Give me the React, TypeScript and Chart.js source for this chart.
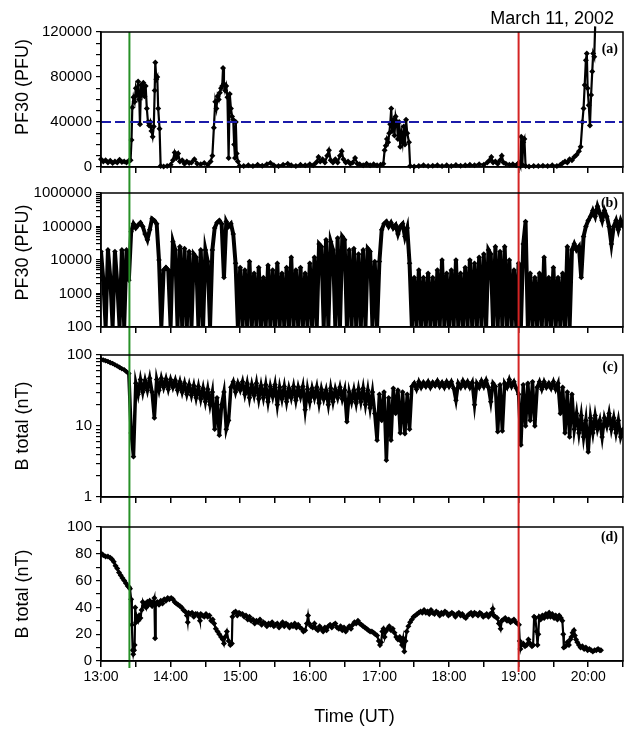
import React, { useEffect, useRef } from "react";
import { Chart, registerables } from "chart.js";
Chart.register(...registerables);

const SANS = "'Liberation Sans', Arial, Helvetica, sans-serif";
const SERIF = "'Liberation Serif', 'Times New Roman', serif";
Chart.defaults.font.family = SANS;

// ---------- axes / categories ----------
const START_HOUR = 13; // x values are minutes after 13:00 UT
const X_MIN = 0;
const X_MAX = 450; // 20:30
const X_TICK_MINUTES = [0, 30, 60, 90, 120, 150, 180, 210, 240, 270, 300, 330, 360, 390, 420, 450];
const GREEN_MARK_MIN = 24.5; // 13:24.5
const RED_MARK_MIN = 360; // 19:00
const DATE_TEXT = "March 11, 2002";
const TITLE_PF30_A = "     PF30 (PFU)";
const TITLE_PF30_B = "   PF30 (PFU)";
const TITLE_BTOTAL = "B total (nT)";
const TITLE_TIME = "Time (UT)   ";

const A_TICKS = [0, 10000, 20000, 30000, 40000, 50000, 60000, 70000, 80000, 90000, 100000, 110000, 120000];
const A_LABEL_STEP = 40000;
const THRESHOLD_A = 40000;
const B_DECADES = [100, 1000, 10000, 100000];
const C_DECADES = [1, 10];
const LOG_MULTIPLIERS = [1, 2, 3, 4, 5, 6, 7, 8, 9];
const D_TICKS = [0, 10, 20, 30, 40, 50, 60, 70, 80, 90, 100];
const D_LABEL_STEP = 20;

// ---------- panel (a): PF30 linear ----------
const minutesA = [
  0, 2, 4, 6, 8, 10, 12, 14, 16, 18,
  20, 22, 24, 25.5, 26.3, 27, 28, 29, 30, 31,
  32, 33, 33.6, 34.5, 35.5, 36.5, 37.5, 38.5, 39.5, 40.5,
  41.5, 42.5, 43.5, 44.5, 45.5, 46.3, 46.8, 47.7, 48.5, 49.3,
  50.5, 51.4, 54, 57, 60, 62, 63.5, 65, 66.5, 68,
  70, 72, 74, 76, 78, 80.5, 83, 86, 89, 92,
  94.5, 96, 97.3, 98.5, 99.5, 100.5, 101.5, 102.5, 103.5, 104.5,
  105.2, 106, 107, 108, 109, 110, 111, 112, 113, 114,
  114.8, 115.5, 116.2, 117, 118, 119.5, 123, 127, 131, 135,
  139, 143, 146, 149, 153, 157, 161, 164, 168, 172,
  176, 180, 183, 185.5, 187.5, 189, 191, 193, 195, 196.5,
  198, 200, 202, 204, 206, 207.5, 209, 211, 213, 215,
  217, 219, 221, 223, 226, 229, 232, 235, 238, 241,
  243.4, 244.5, 245.5, 246.5, 247.5, 248.5, 249.3, 250.2, 251, 252,
  253, 254, 255, 256, 257, 258, 259, 260, 261, 262,
  263, 264, 265.5, 266.5, 270, 274, 278, 282, 286, 290,
  294, 298, 302, 306, 310, 314, 318, 322, 326, 330,
  333, 335, 336.5, 338, 340, 342, 344, 345.5, 347, 349,
  352, 355, 358, 359.5, 360.5, 361.5, 362.3, 363.2, 364, 365,
  366, 369, 373, 377, 381, 385, 389, 393, 396, 398,
  400, 402, 404, 406, 408, 410, 412, 413.5, 415, 416,
  417, 418, 418.8, 419.5, 420.5, 421.5, 422.5, 423.5, 424.3, 425.2,
  426,
];
const pf30A = [
  7000, 5000, 6000, 4000, 5500, 3500, 5000, 4000, 6500, 4500,
  5000, 4000, 5500, 6000, 24000, 53000, 62000, 58000, 70000, 64000,
  76000, 60000, 38000, 73000, 66000, 75000, 63000, 72000, 52000, 40000,
  37000, 40000, 32000, 27000, 36000, 68000, 93000, 78000, 80000, 52000,
  34000, 1000, 500, 1000, 2000, 6000, 13000, 8000, 12000, 5000,
  6000, 3000, 5000, 3500, 4000, 7000, 3000, 2500, 3500, 2000,
  5000, 10000, 35000, 58000, 52000, 63000, 60000, 66000, 70000, 72000,
  88000, 74000, 68000, 72000, 62000, 8000, 65000, 52000, 45000, 42000,
  20000, 8000, 40000, 12000, 5000, 1000, 800, 1500, 1000, 2000,
  1200, 2500, 3500, 1500, 1000, 2000, 3000, 1500, 1000, 2000,
  1500, 2500, 1500, 4000, 9000, 5000, 7000, 4000, 10000, 15000,
  6000, 4000, 7000, 4000, 10000, 14000, 7000, 4000, 5000, 3000,
  4000, 8000, 3000, 2500, 1500, 3000, 1500, 2500, 1500, 2000,
  3000, 15000, 19000, 25000, 22000, 30000, 38000, 52000, 32000, 42000,
  28000, 45000, 40000, 25000, 40000, 18000, 30000, 22000, 36000, 20000,
  42000, 30000, 22000, 1000, 500, 1000, 1500, 800, 1200, 1500,
  800, 1500, 1000, 1800, 1200, 1500, 2000, 1500, 2500, 2000,
  4000, 6000, 9000, 4000, 5000, 3000, 6000, 10000, 4000, 3000,
  2000, 2500, 1500, 3000, 4000, 1000, 27000, 2000, 22000, 25000,
  1000, 500, 1000, 800, 1200, 1000, 1500, 1000, 2000, 3500,
  5000, 4000, 7000, 6000, 9000, 11000, 14000, 18000, 40000, 52000,
  73000, 95000, 101000, 70000, 55000, 37000, 64000, 85000, 101000, 98000,
  125000,
];

// ---------- panels (b) and (c): sampled every 2 minutes from 13:00 ----------
const SAMPLE_START_MIN = 0;
const SAMPLE_STEP_MIN = 2;
const pf30B = [
  18000, 2500, 100, 20000, 3000, 100, 18000, 2000, 100, 20000,
  100, 20000, 2500, 70000, 120000, 90000, 110000, 130000, 100000, 60000,
  40000, 80000, 170000, 150000, 120000, 10000, 100, 5000, 6000, 5000,
  100, 35000, 20000, 100, 25000, 100, 22000, 100, 18000, 100,
  15000, 12000, 100, 20000, 100, 20000, 9000, 100, 20000, 90000,
  130000, 150000, 120000, 3000, 140000, 100000, 120000, 60000, 8000, 100,
  6000, 100, 5000, 100, 9000, 100, 4000, 100, 6000, 100,
  3000, 100, 7000, 100, 5000, 100, 8000, 100, 4000, 100,
  6000, 100, 12000, 100, 5000, 100, 6000, 100, 4000, 100,
  8000, 100, 12000, 100, 30000, 25000, 100, 40000, 100, 35000,
  20000, 100, 45000, 100, 50000, 40000, 100, 20000, 100, 22000,
  100, 15000, 100, 20000, 100, 22000, 18000, 100, 9000, 100,
  9000, 80000, 120000, 140000, 100000, 130000, 90000, 110000, 60000, 100000,
  120000, 50000, 90000, 8000, 100, 3000, 100, 5000, 100, 3000,
  100, 4000, 100, 3000, 100, 5000, 100, 10000, 100, 4000,
  100, 5000, 100, 10000, 100, 4000, 100, 6000, 100, 10000,
  100, 8000, 100, 12000, 100, 15000, 100, 20000, 15000, 100,
  25000, 100, 18000, 100, 25000, 100, 10000, 100, 5000, 100,
  8000, 100, 30000, 140000, 100, 4000, 100, 3000, 100, 4000,
  100, 12000, 100, 3000, 100, 6000, 100, 3000, 100, 4000,
  100, 25000, 100, 20000, 30000, 20000, 25000, 3000, 50000, 100000,
  150000, 200000, 300000, 200000, 400000, 250000, 150000, 300000, 200000, 100000,
  30000, 100000, 150000, 80000, 150000, 100000,
];
const btotalC = [
  87, 85, 83, 81, 78, 76, 73, 70, 67, 64,
  62, 58, 55, 8, 3.7, 40, 28, 45, 30, 44,
  32, 47, 30, 13, 45, 32, 47, 35, 46, 33,
  45, 35, 44, 32, 42, 30, 40, 28, 38, 27,
  37, 25, 36, 24, 34, 22, 33, 20, 30, 9,
  25, 7.4, 20, 30, 9, 12, 35, 42, 30, 40,
  32, 42, 28, 40, 25, 38, 27, 40, 24, 37,
  25, 38, 22, 36, 26, 38, 20, 35, 24, 36,
  22, 34, 25, 36, 23, 35, 26, 36, 17, 33,
  22, 34, 25, 35, 21, 33, 24, 32, 20, 34,
  22, 33, 25, 35, 24, 32, 11.5, 30, 22, 32,
  21, 33, 22, 34, 20, 32, 18, 30, 15, 6.3,
  28, 12, 30, 3.3, 25, 6.3, 34, 15, 32, 8,
  30, 7.8, 28, 9, 36, 40, 33, 42, 35, 41,
  36, 42, 35, 41, 37, 43, 36, 41, 35, 42,
  36, 42, 34, 23, 40, 35, 43, 36, 42, 35,
  41, 20, 40, 35, 43, 36, 44, 35, 22, 40,
  36, 8.3, 38, 8.5, 40, 35, 45, 36, 42, 34,
  28, 5.4, 38, 10, 40, 12, 42, 10, 35, 42,
  33, 42, 35, 40, 34, 42, 33, 40, 15, 35,
  8, 30, 7, 28, 9, 15, 8, 14, 7, 12,
  4.3, 13, 8, 14, 9, 12, 7, 13, 10, 15,
  9, 13, 8, 12, 7, 9,
];

// ---------- panel (d): B total linear ----------
const minutesD = [
  0.5, 2, 4, 6, 8, 9.5, 11, 12.5, 14, 15.5,
  17, 18.5, 20, 21.5, 23, 24.3, 25, 26, 26.6, 27.3,
  27.8, 28.5, 29, 29.5, 30.2, 31, 32, 33, 34, 35,
  36, 37, 38, 39, 40, 41, 42, 43, 44, 45,
  46, 46.6, 47.2, 48.5, 50, 51.5, 53, 54.5, 56, 57.5,
  59, 60.5, 62, 63.5, 65, 66.5, 68, 69.5, 71, 72.5,
  74, 74.8, 75.5, 77, 78.5, 80, 81.5, 83, 84.5, 85.3,
  86, 87.5, 89, 90.5, 92, 93.5, 95, 96.3, 97.5, 99,
  100.5, 102, 103.5, 105, 106, 107, 108.5, 110, 111.5, 112.8,
  113.3, 114.5, 116, 117.5, 119, 120.5, 122, 123.5, 125, 126.5,
  128, 129.5, 131, 132.5, 134, 135.5, 137, 138.5, 140, 141.5,
  143, 144.5, 146, 147.5, 149, 150.5, 152, 153.5, 155, 156.5,
  158, 159.5, 161, 162.5, 164, 165.5, 167, 168.5, 170, 171.5,
  173, 174.5, 176, 177.5, 178.5, 179.5, 181, 182.5, 184, 185.5,
  187, 188.5, 190, 191.5, 193, 194.5, 196, 197.5, 199, 200.5,
  202, 203.5, 205, 206.5, 208, 209.5, 211, 212.5, 214, 215.5,
  217, 218.5, 220, 221.5, 223, 224.5, 226, 227.5, 229, 230.5,
  232, 233.5, 235, 236.5, 238, 239.5, 240.5, 241.5, 242.5, 243.5,
  244.5, 245.5, 247, 248.5, 250, 251.5, 253, 254.5, 256, 257.5,
  258.5, 259.5, 260.5, 261.5, 262.5, 263.5, 265, 266.5, 268, 269.5,
  271, 272.5, 274, 275.5, 277, 278.5, 280, 281.5, 283, 284.5,
  286, 287.5, 289, 290.5, 292, 293.5, 295, 296.5, 298, 299.5,
  301, 302.5, 304, 305.5, 307, 308.5, 310, 311.5, 313, 314.5,
  316, 317.5, 319, 320.5, 322, 323.5, 325, 326.5, 328, 329.5,
  331, 332.5, 334, 335.5, 337, 337.7, 338.5, 340, 341.5, 343,
  344.5, 345.5, 347, 348.5, 350, 351.5, 353, 354.5, 356, 357.5,
  359, 360.3, 361, 361.6, 362.5, 364, 365.5, 367, 368.5, 370,
  371.5, 372.5, 373.4, 374.5, 375.5, 376.3, 377, 377.7, 379, 380.5,
  382, 383.5, 385, 386.3, 387.5, 389, 390.6, 392, 393.5, 395,
  396.5, 397.7, 398.5, 399, 400.5, 402, 403.4, 404.5, 405.5, 406.5,
  407.7, 408.5, 409.5, 410.6, 412, 413.4, 415, 416.5, 418, 419.5,
  421, 422.5, 424, 425.5, 427, 428.5, 430, 431,
];
const btotalD = [
  80, 79, 78, 78, 77, 76, 74, 71, 69, 66,
  64, 62, 60, 58, 56, 55, 54, 46, 27, 8,
  5, 8, 12, 40, 29, 33, 30, 34, 32, 38,
  44, 41, 43, 40, 44, 42, 45, 43, 41, 44,
  47, 17, 42, 44, 42, 45, 43, 46, 45, 47,
  46, 47, 46, 44, 43, 42, 41, 40, 38, 37,
  34, 29, 36, 35, 36, 33, 35, 35, 33, 30,
  35, 34, 33, 35, 33, 34, 30, 31, 28, 24,
  22, 20, 18, 16, 13, 18, 22, 15, 12, 13,
  33, 36, 37, 34, 36, 35, 35, 33, 34, 31,
  33, 30, 31, 28, 30, 29, 31, 27, 29, 28,
  26, 28, 27, 29, 26, 27, 28, 25, 27, 29,
  26, 28, 27, 25, 27, 26, 28, 25, 27, 25,
  24, 22, 23, 28, 34, 28, 26, 25, 28, 24,
  23, 26, 24, 22, 25, 23, 26, 27, 25, 27,
  28, 25, 24, 26, 23, 25, 22, 24, 26, 24,
  27, 29, 28, 30, 28, 27, 26, 25, 24, 23,
  22, 22, 21, 20, 19, 15, 12, 14, 22, 24,
  18, 22, 24, 26, 23, 24, 21, 18, 16, 18,
  15, 12, 17, 7, 15, 22, 26, 29, 31, 33,
  34, 35, 36, 37, 36, 38, 36, 37, 35, 38,
  36, 35, 37, 36, 34, 36, 35, 37, 36, 34,
  35, 36, 35, 33, 35, 36, 34, 35, 33, 32,
  34, 35, 36, 34, 36, 35, 34, 36, 35, 33,
  34, 35, 33, 35, 36, 39, 34, 33, 32, 28,
  24, 30, 31, 32, 30, 31, 29, 30, 31, 29,
  28, 27, 15, 9, 12, 13, 11, 12, 16, 13,
  11, 12, 33, 32, 22, 12, 20, 33, 31, 34,
  32, 35, 33, 36, 33, 35, 32, 34, 31, 34,
  32, 30, 20, 10, 11, 14, 12, 16, 18, 21,
  23, 19, 16, 14, 12, 10, 11, 9, 10, 8,
  9, 8, 7, 8, 8, 9, 8, 8,
];

// ---------- helpers ----------
const pairs = (xs: number[], ys: number[]) => ys.map((y, i) => ({ x: xs[i], y }));
const sampled = (ys: number[]) => ys.map((y, i) => ({ x: SAMPLE_START_MIN + i * SAMPLE_STEP_MIN, y }));
const logTicks = (decades: number[], top: number) => {
  const out: number[] = [];
  decades.forEach((d) => LOG_MULTIPLIERS.forEach((m) => out.push(d * m)));
  out.push(top);
  return out;
};
const isPow10 = (v: number) => Math.abs(Math.log10(v) - Math.round(Math.log10(v))) < 1e-9;
const timeLabel = (v: number) => (v % 60 === 0 ? `${START_HOUR + v / 60}:00` : "");

const overlayPlugin = {
  id: "overlay",
  afterDatasetsDraw(chart: any, _args: any, opts: any) {
    const { ctx, chartArea: ca, scales } = chart;
    const x = scales.x;
    ctx.save();
    const marks = [
      { at: GREEN_MARK_MIN, color: "#279127" },
      { at: RED_MARK_MIN, color: "#d42424" },
    ];
    marks.forEach((m, i) => {
      const px = x.getPixelForValue(m.at);
      const y0 = opts.fromArea ? ca.top : 0;
      const y1 = opts.toArea ? ca.bottom + (i === 0 ? 7 : 11) : chart.height;
      ctx.strokeStyle = m.color;
      ctx.lineWidth = 2;
      ctx.beginPath();
      ctx.moveTo(px, y0);
      ctx.lineTo(px, y1);
      ctx.stroke();
    });
    ctx.restore();
  },
  afterDraw(chart: any, _args: any, opts: any) {
    const { ctx, chartArea: ca } = chart;
    ctx.save();
    ctx.strokeStyle = "#000";
    ctx.lineWidth = 1.5;
    ctx.strokeRect(ca.left, ca.top, ca.right - ca.left, ca.bottom - ca.top);
    ctx.fillStyle = "#000";
    ctx.textAlign = "right";
    ctx.textBaseline = "middle";
    ctx.font = `bold 14px ${SERIF}`;
    ctx.fillText(opts.letter, ca.right - 5, ca.top + opts.letterDy);
    if (opts.dateText) {
      ctx.font = `18px ${SANS}`;
      ctx.fillText(opts.dateText, ca.right - 9, 19);
    }
    ctx.restore();
  },
};

const lineStyle = (lw: number, pr: number) => ({
  borderColor: "#000",
  borderWidth: lw,
  pointStyle: "rectRot",
  pointRadius: pr,
  pointBackgroundColor: "#000",
  pointBorderColor: "#000",
  pointBorderWidth: 0,
  fill: false,
  tension: 0,
});

function xScale(showLabels: boolean, height: number) {
  return {
    type: "linear",
    min: X_MIN,
    max: X_MAX,
    afterBuildTicks: (s: any) => {
      s.ticks = X_TICK_MINUTES.map((v) => ({ value: v }));
    },
    afterFit: (s: any) => {
      s.height = height;
    },
    ticks: {
      display: showLabels,
      autoSkip: false,
      maxRotation: 0,
      padding: 2,
      color: "#000",
      font: { size: 14 },
      callback: (v: any) => timeLabel(Number(v)),
    },
    grid: { drawOnChartArea: false, drawTicks: true, tickLength: 6, color: "#000", lineWidth: 1.5 },
    border: { display: true, color: "#000", width: 1.5 },
    title: showLabels
      ? { display: true, text: TITLE_TIME, color: "#000", font: { size: 18 }, padding: { top: 4, bottom: 4 } }
      : { display: false },
  };
}

function yScale(kind: string, min: number, max: number, ticks: number[], label: (v: number) => string, title: string) {
  return {
    type: kind,
    min,
    max,
    afterBuildTicks: (s: any) => {
      s.ticks = ticks.map((v) => ({ value: v }));
    },
    afterFit: (s: any) => {
      s.width = 93;
    },
    ticks: {
      autoSkip: false,
      padding: 4,
      color: "#000",
      font: { size: 15 },
      callback: (v: any) => label(Number(v)),
    },
    grid: { drawOnChartArea: false, drawTicks: true, tickLength: 5, color: "#000", lineWidth: 1.2 },
    border: { display: true, color: "#000", width: 1.5 },
    title: { display: true, text: title, color: "#000", font: { size: 18 }, padding: { top: 4, bottom: 4 } },
  };
}

function baseOptions(padTop: number, x: any, y: any, overlay: any) {
  return {
    responsive: false,
    animation: false,
    events: [],
    layout: { padding: { top: padTop, left: 8, right: 2, bottom: 0 } },
    scales: { x, y },
    plugins: { legend: { display: false }, tooltip: { enabled: false }, overlay },
  };
}

const buildA = () => ({
  type: "line",
  data: {
    datasets: [
      {
        data: [
          { x: X_MIN, y: THRESHOLD_A },
          { x: X_MAX, y: THRESHOLD_A },
        ],
        borderColor: "#1b1baa",
        borderWidth: 2,
        borderDash: [10, 4],
        pointRadius: 0,
        fill: false,
      },
      {
        data: pairs(minutesA, pf30A),
        ...lineStyle(2.2, 3),
        pointRadius: (c: any) => (c.raw && c.raw.y > 120000 ? 0 : 3),
        clip: false,
      },
    ],
  },
  options: baseOptions(
    32,
    xScale(false, 12),
    yScale("linear", 0, 120000, A_TICKS, (v) => (v % A_LABEL_STEP === 0 ? String(v) : ""), TITLE_PF30_A),
    { letter: "(a)", letterDy: 17, fromArea: true, toArea: false, dateText: DATE_TEXT }
  ),
  plugins: [overlayPlugin],
});

const buildB = () => ({
  type: "line",
  data: { datasets: [{ data: sampled(pf30B), ...lineStyle(4, 2.8) }] },
  options: baseOptions(
    13,
    xScale(false, 10),
    yScale("logarithmic", 100, 1000000, logTicks(B_DECADES, 1000000), (v) => (isPow10(v) ? String(v) : ""), TITLE_PF30_B),
    { letter: "(b)", letterDy: 10, fromArea: false, toArea: false }
  ),
  plugins: [overlayPlugin],
});

const buildC = () => ({
  type: "line",
  data: { datasets: [{ data: sampled(btotalC), ...lineStyle(3.5, 2.8) }] },
  options: baseOptions(
    15,
    xScale(false, 13),
    yScale("logarithmic", 1, 100, logTicks(C_DECADES, 100), (v) => (isPow10(v) ? String(v) : ""), TITLE_BTOTAL),
    { letter: "(c)", letterDy: 12, fromArea: false, toArea: false }
  ),
  plugins: [overlayPlugin],
});

const buildD = () => ({
  type: "line",
  data: { datasets: [{ data: pairs(minutesD, btotalD), ...lineStyle(2.2, 3) }] },
  options: baseOptions(
    17,
    xScale(true, 71),
    yScale("linear", 0, 100, D_TICKS, (v) => (v % D_LABEL_STEP === 0 ? String(v) : ""), TITLE_BTOTAL),
    { letter: "(d)", letterDy: 10, fromArea: false, toArea: true }
  ),
  plugins: [overlayPlugin],
});

function Panel({ top, height, build }: { top: number; height: number; build: () => any }) {
  const ref = useRef<HTMLCanvasElement | null>(null);
  useEffect(() => {
    const chart = new Chart(ref.current as HTMLCanvasElement, build() as any);
    return () => chart.destroy();
  }, []);
  return (
    <canvas
      ref={ref}
      width={627}
      height={height}
      style={{ position: "absolute", left: 0, top, width: 627, height, display: "block" }}
    />
  );
}

export default function App() {
  return (
    <div style={{ position: "absolute", left: 0, top: 0, width: 627, height: 732, background: "#fff", overflow: "hidden" }}>
      <Panel top={0} height={180} build={buildA} />
      <Panel top={180} height={160} build={buildB} />
      <Panel top={340} height={170} build={buildC} />
      <Panel top={510} height={222} build={buildD} />
    </div>
  );
}
